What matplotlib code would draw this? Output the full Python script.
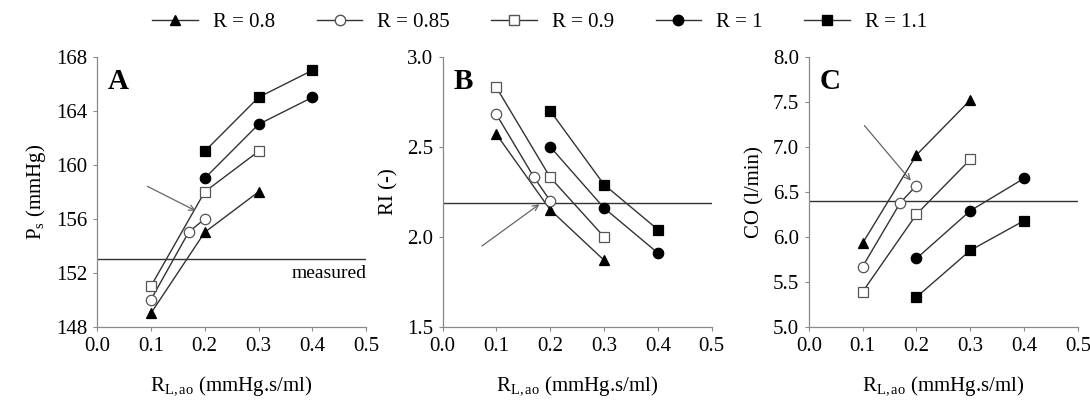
import matplotlib
matplotlib.use("Agg")
import matplotlib.pyplot as plt
from matplotlib.lines import Line2D

plt.rcParams['font.family'] = ['Liberation Serif', 'DejaVu Serif']
plt.rcParams['mathtext.fontset'] = 'custom'
plt.rcParams['mathtext.rm'] = 'Liberation Serif'
plt.rcParams['mathtext.it'] = 'Liberation Serif'

# Data
labels = ["R = 0.8", "R = 0.85", "R = 0.9", "R = 1", "R = 1.1"]
markers = ["^", "o", "s", "o", "s"]
faces = ["black", "white", "white", "black", "black"]

x_08 = [0.1, 0.2, 0.3]
x_085 = [0.1, 0.17, 0.2]
x_09 = [0.1, 0.2, 0.3]
x_1 = [0.2, 0.3, 0.4]
x_11 = [0.2, 0.3, 0.4]
xs = [x_08, x_085, x_09, x_1, x_11]

ps_a = [[149, 155, 158], [150, 155, 156], [151, 158, 161], [159, 163, 165], [161, 165, 167]]
ri_b = [[2.57, 2.15, 1.87], [2.68, 2.33, 2.20], [2.83, 2.33, 2.00], [2.50, 2.16, 1.91], [2.70, 2.29, 2.04]]
co_c = [[5.93, 6.91, 7.52], [5.67, 6.38, 6.57], [5.39, 6.25, 6.86], [5.76, 6.29, 6.65], [5.33, 5.85, 6.18]]

measured = [153, 2.19, 6.4]
arrows = [((0.089, 158.5), (0.188, 156.5)),
          ((0.069, 1.94), (0.184, 2.19)),
          ((0.1, 7.26), (0.193, 6.6))]

panels = [
    ("A", ps_a, (148, 168), [148, 152, 156, 160, 164, 168], "%d", "P$_\\mathrm{s}$ (mmHg)"),
    ("B", ri_b, (1.5, 3.0), [1.5, 2.0, 2.5, 3.0], "%.1f", "RI (-)"),
    ("C", co_c, (5.0, 8.0), [5.0, 5.5, 6.0, 6.5, 7.0, 7.5, 8.0], "%.1f", "CO (l/min)"),
]
lefts = [0.089, 0.406, 0.742]

fig = plt.figure(figsize=(10.9, 4.03), dpi=100)
for i, (letter, data, ylim, yticks, fmt, ylabel) in enumerate(panels):
    ax = fig.add_axes([lefts[i], 0.189, 0.247, 0.67])
    for j in range(5):
        ax.plot(xs[j], data[j], color="#333333", lw=1.0, marker=markers[j],
                mfc=faces[j], mec="black" if faces[j] == "black" else "#555555",
                ms=7.5, mew=0.9, zorder=3)
    ax.axhline(measured[i], color="#333333", lw=1.0, zorder=2)
    (x0, y0), (x1, y1) = arrows[i]
    ax.annotate("", xy=(x1, y1), xytext=(x0, y0),
                arrowprops=dict(arrowstyle="->", color="#666666", lw=0.9))
    ax.set_xlim(0, 0.5)
    ax.set_ylim(*ylim)
    ax.set_xticks([0.0, 0.1, 0.2, 0.3, 0.4, 0.5])
    ax.set_xticklabels(["%.1f" % v for v in [0.0, 0.1, 0.2, 0.3, 0.4, 0.5]])
    ax.set_yticks(yticks)
    ax.set_yticklabels([fmt % v for v in yticks])
    for s in ["top", "right"]:
        ax.spines[s].set_visible(False)
    for s in ["left", "bottom"]:
        ax.spines[s].set_color("#888888")
        ax.spines[s].set_linewidth(0.9)
    ax.tick_params(labelsize=15, length=3, color="#888888", pad=4)
    ax.set_xlabel("R$_\\mathrm{L,ao}$ (mmHg.s/ml)", fontsize=15, labelpad=14)
    ax.set_ylabel(ylabel, fontsize=15, labelpad=6)
    ax.text(0.04, 0.96, letter, transform=ax.transAxes, fontsize=21,
            fontweight="bold", va="top", ha="left")
    if letter == "A":
        ax.text(0.5, measured[i] - 0.4, "measured", ha="right", va="top", fontsize=14)

handles = [Line2D([], [], color="#333333", lw=1.0, marker=markers[j], mfc=faces[j],
                  mec="black" if faces[j] == "black" else "#555555", ms=7.5)
           for j in range(5)]
fig.legend(handles, labels, loc="upper center", bbox_to_anchor=(0.495, 1.015), ncol=5,
           frameon=False, fontsize=15, handlelength=2.2, columnspacing=2.0,
           handletextpad=0.7)

fig.savefig("out.png", dpi=100)
